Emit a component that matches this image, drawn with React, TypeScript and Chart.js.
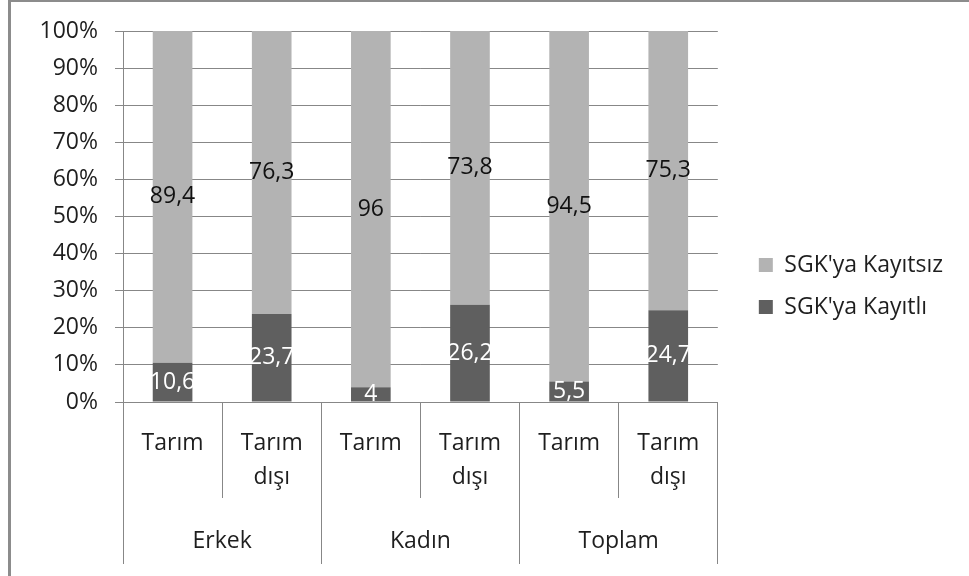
import { useEffect, useRef } from 'react';
import { Chart, registerables } from 'chart.js';

Chart.register(...registerables);

// Sector / sex breakdown of employment by social-security (SGK) registration, in percent
const groups = ['Erkek', 'Kadın', 'Toplam'];
const sectors = [['Tarım'], ['Tarım', 'dışı']];
const categories = groups.flatMap(() => sectors);
const registered = [10.6, 23.7, 4, 26.2, 5.5, 24.7];
const unregistered = [89.4, 76.3, 96, 73.8, 94.5, 75.3];
const seriesNames = ["SGK'ya Kayıtlı", "SGK'ya Kayıtsız"];
const yMin = 0;
const yMax = 100;
const yStep = 10;

const FONT = "'Open Sans', 'DejaVu Sans', sans-serif";
const FONT_SIZE = 23;
const TEXT = '#1e1e1e';
const GRID = '#878787';
const DARK = '#5f5f5f';
const LIGHT = '#b3b3b3';

const formatValue = (v: number) => String(v).replace('.', ',');

// Writes each segment's value in the middle of its bar segment
const valueLabels = {
  id: 'valueLabels',
  afterDatasetsDraw(chart: any) {
    const { ctx } = chart;
    ctx.save();
    ctx.font = `${FONT_SIZE}px ${FONT}`;
    ctx.textAlign = 'center';
    ctx.textBaseline = 'middle';
    chart.data.datasets.forEach((ds: any, i: number) => {
      const meta = chart.getDatasetMeta(i);
      meta.data.forEach((bar: any, j: number) => {
        const { x, y } = bar.getCenterPoint();
        ctx.fillStyle = i === 0 ? '#ffffff' : '#111111';
        ctx.fillText(formatValue(ds.data[j]), x, y);
      });
    });
    ctx.restore();
  },
};

export default function App() {
  const canvasRef = useRef<HTMLCanvasElement | null>(null);

  useEffect(() => {
    if (!canvasRef.current) return;
    const chart = new Chart(canvasRef.current, {
      type: 'bar',
      data: {
        labels: categories,
        datasets: [
          {
            label: seriesNames[0],
            data: registered,
            backgroundColor: DARK,
            borderWidth: 0,
            xAxisID: 'x',
            yAxisID: 'y',
            categoryPercentage: 1,
            barPercentage: 0.4,
          },
          {
            label: seriesNames[1],
            data: unregistered,
            backgroundColor: LIGHT,
            borderWidth: 0,
            xAxisID: 'x',
            yAxisID: 'y',
            categoryPercentage: 1,
            barPercentage: 0.4,
          },
        ],
      },
      options: {
        responsive: false,
        animation: false,
        layout: { padding: { left: 0, top: 8, right: 16, bottom: 12 } },
        scales: {
          x: {
            type: 'category',
            stacked: true,
            offset: true,
            weight: 0,
            grid: {
              offset: true,
              drawOnChartArea: false,
              drawTicks: true,
              tickLength: 96,
              color: GRID,
            },
            border: { display: true, color: GRID },
            ticks: {
              autoSkip: false,
              maxRotation: 0,
              padding: -71,
              color: TEXT,
              font: { family: FONT, size: FONT_SIZE, lineHeight: 1.45 },
            },
            afterFit: (s: any) => {
              s.height = 96;
            },
          },
          xGroup: {
            type: 'category',
            position: 'bottom',
            labels: groups,
            offset: true,
            weight: 1,
            grid: {
              offset: true,
              drawOnChartArea: false,
              drawTicks: true,
              tickLength: 66,
              color: GRID,
            },
            border: { display: false },
            ticks: {
              autoSkip: false,
              maxRotation: 0,
              padding: -36,
              color: TEXT,
              font: { family: FONT, size: FONT_SIZE, lineHeight: 1.2 },
            },
            afterFit: (s: any) => {
              s.height = 66;
            },
          },
          y: {
            stacked: true,
            min: yMin,
            max: yMax,
            grid: { color: GRID, tickLength: 8 },
            border: { display: true, color: GRID },
            ticks: {
              stepSize: yStep,
              padding: 17,
              color: TEXT,
              font: { family: FONT, size: FONT_SIZE },
              callback: (v: any) => `${v}%`,
            },
            afterFit: (s: any) => {
              s.width = 123;
            },
          },
          // blank strip between the plot and the legend
          gap: {
            type: 'linear',
            position: 'right',
            display: true,
            grid: { display: false },
            border: { display: false },
            ticks: { display: false },
            afterFit: (s: any) => {
              s.width = 22;
            },
          },
        },
        plugins: {
          title: {
            display: true,
            text: '',
            fullSize: false,
            padding: 0,
            font: { size: 23, lineHeight: 1 },
          },
          legend: {
            position: 'right',
            reverse: true,
            maxWidth: 400,
            labels: {
              boxWidth: 14,
              boxHeight: 14,
              padding: 19,
              color: TEXT,
              font: { family: FONT, size: FONT_SIZE },
            },
          },
          tooltip: { enabled: false },
        },
      },
      plugins: [valueLabels],
    });
    return () => chart.destroy();
  }, []);

  return (
    <div style={{ position: 'absolute', left: 0, top: 0, width: 969, height: 576, background: '#ffffff', overflow: 'hidden' }}>
      <div
        style={{
          position: 'absolute',
          left: 8,
          top: 0,
          width: 980,
          height: 600,
          borderLeft: '3px solid #8c8c8c',
          borderTop: '2px solid #8c8c8c',
        }}
      />
      <canvas ref={canvasRef} width={969} height={576} style={{ position: 'absolute', left: 0, top: 0 }} />
    </div>
  );
}
